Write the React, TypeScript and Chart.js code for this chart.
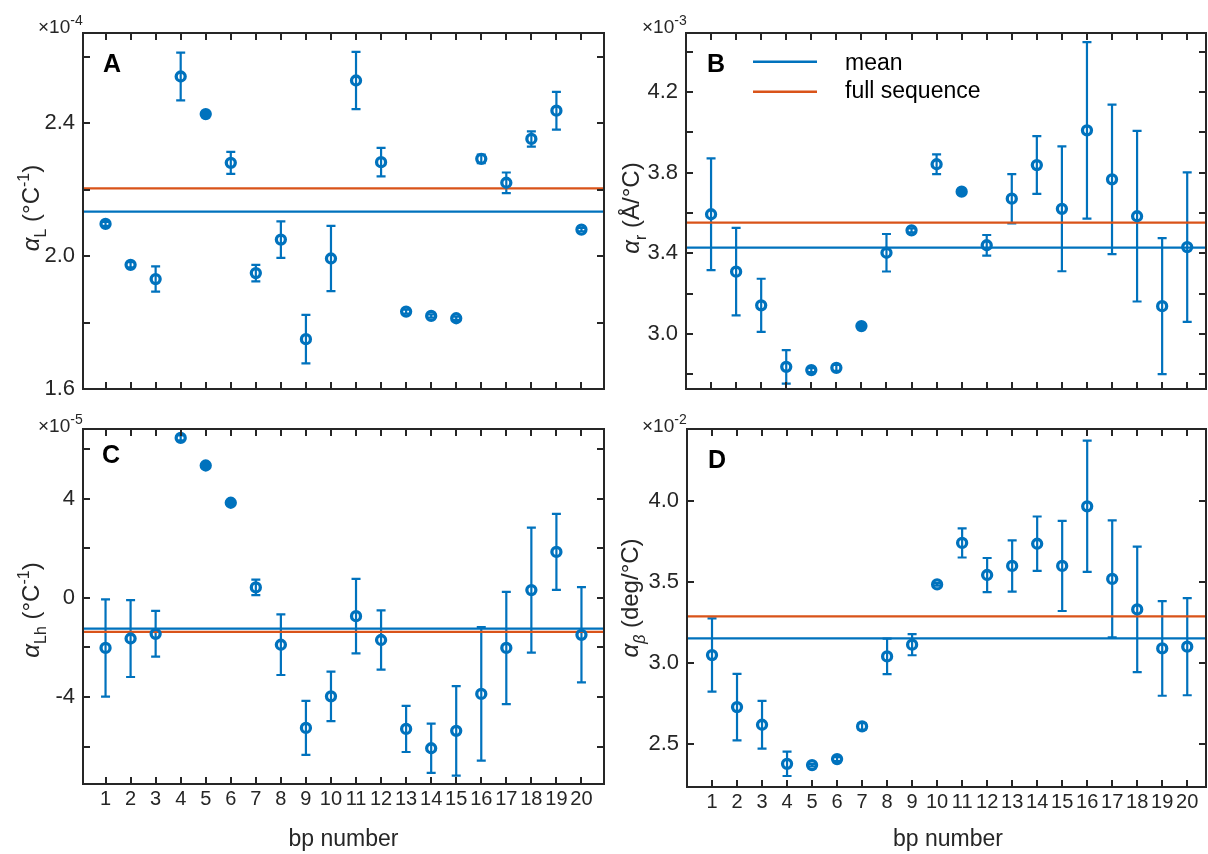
import React, { useEffect, useRef } from 'react';
import { Chart, registerables } from 'chart.js';

Chart.register(...registerables);

const FONT = '"Liberation Sans", Arial, Helvetica, sans-serif';
const INK = '#262626';
const BLUE = '#0072BD';
const ORANGE = '#D95319';

const bpNumbers = [1, 2, 3, 4, 5, 6, 7, 8, 9, 10, 11, 12, 13, 14, 15, 16, 17, 18, 19, 20];

// Panel A : alpha_L (x1e-4 1/C)
const alphaL = [2.097, 1.974, 1.931, 2.541, 2.428, 2.281, 1.949, 2.05, 1.75, 1.993, 2.529, 2.283, 1.833, 1.82, 1.813, 2.293, 2.221, 2.353, 2.438, 2.08];
const alphaLErr = [0.006, 0.008, 0.038, 0.072, 0, 0.033, 0.025, 0.055, 0.073, 0.098, 0.086, 0.043, 0.006, 0.005, 0.005, 0.013, 0.031, 0.023, 0.057, 0.005];
const alphaLFilled = [5];
const alphaLMean = 2.134;
const alphaLFull = 2.204;
const alphaLTicks = [1.6, 1.8, 2.0, 2.2, 2.4, 2.6];
const alphaLLabels = [1.6, 2.0, 2.4];

// Panel B : alpha_r (x1e-3 A/C)
const alphaR = [3.594, 3.309, 3.142, 2.837, 2.821, 2.832, 3.039, 3.403, 3.514, 3.842, 3.706, 3.44, 3.671, 3.838, 3.621, 4.01, 3.767, 3.584, 3.138, 3.431];
const alphaRErr = [0.277, 0.217, 0.132, 0.083, 0.01, 0.015, 0, 0.093, 0.01, 0.049, 0, 0.051, 0.122, 0.143, 0.31, 0.438, 0.371, 0.423, 0.337, 0.371];
const alphaRFilled = [7, 11];
const alphaRMean = 3.428;
const alphaRFull = 3.552;
const alphaRTicks = [2.8, 3.0, 3.2, 3.4, 3.6, 3.8, 4.0, 4.2, 4.4];
const alphaRLabels = [3.0, 3.4, 3.8, 4.2];

// Panel C : alpha_Lh (x1e-5 1/C)
const alphaLh = [-2.02, -1.64, -1.45, 6.44, 5.33, 3.83, 0.42, -1.89, -5.24, -3.97, -0.74, -1.7, -5.28, -6.06, -5.36, -3.87, -2.02, 0.31, 1.85, -1.49];
const alphaLhErr = [1.96, 1.55, 0.92, 0.1, 0.05, 0.05, 0.31, 1.22, 1.09, 1.0, 1.5, 1.19, 0.93, 0.99, 1.8, 2.69, 2.26, 2.52, 1.53, 1.92];
const alphaLhFilled = [5, 6];
const alphaLhMean = -1.24;
const alphaLhFull = -1.37;
const alphaLhTicks = [-6, -4, -2, 0, 2, 4, 6];
const alphaLhLabels = [-4, 0, 4];

// Panel D : alpha_beta (x1e-2 deg/C)
const alphaBeta = [3.049, 2.728, 2.619, 2.378, 2.37, 2.407, 2.609, 3.041, 3.113, 3.485, 3.741, 3.543, 3.599, 3.736, 3.599, 3.967, 3.519, 3.331, 3.09, 3.101];
const alphaBetaErr = [0.226, 0.205, 0.147, 0.075, 0.008, 0.012, 0.02, 0.11, 0.065, 0.008, 0.09, 0.105, 0.158, 0.168, 0.278, 0.405, 0.361, 0.387, 0.292, 0.3];
const alphaBetaFilled: number[] = [];
const alphaBetaMean = 3.152;
const alphaBetaFull = 3.288;
const alphaBetaTicks = [2.5, 3.0, 3.5, 4.0];
const alphaBetaLabels = [2.5, 3.0, 3.5, 4.0];

const legendLabels = ['mean', 'full sequence'];

type Part = { t: string; k?: 'sub' | 'sup' | 'i' | 'subi' };

interface PanelCfg {
  rect: { left: number; top: number; width: number; height: number };
  padTop: number;
  padRight: number;
  yW: number;
  xH: number;
  xMin: number;
  xMax: number;
  yMin: number;
  yMax: number;
  values: number[];
  errors: number[];
  filled: number[];
  mean: number;
  full: number;
  yTicks: number[];
  yLabels: number[];
  decimals: number;
  showX: boolean;
  letter: string;
  letterPos: [number, number];
  exp: string;
  expPos: [number, number];
  yTitle: Part[];
  yTitlePos: [number, number];
  xTitlePos?: [number, number];
  legend?: boolean;
}

const CAP = 4.5;
const TICK = 7;

function partFont(k: Part['k'], big: number, small: number) {
  const isSmall = k === 'sub' || k === 'sup' || k === 'subi';
  const italic = k === 'i' || k === 'subi';
  return `${italic ? 'italic ' : ''}${isSmall ? small : big}px ${FONT}`;
}

function drawRich(ctx: CanvasRenderingContext2D, parts: Part[], big: number, small: number, center: boolean) {
  let total = 0;
  const widths = parts.map((p) => {
    ctx.font = partFont(p.k, big, small);
    const w = ctx.measureText(p.t).width;
    total += w;
    return w;
  });
  let cur = center ? -total / 2 : 0;
  parts.forEach((p, i) => {
    ctx.font = partFont(p.k, big, small);
    const dy = p.k === 'sub' || p.k === 'subi' ? big * 0.28 : p.k === 'sup' ? -big * 0.4 : 0;
    ctx.fillText(p.t, cur, dy);
    cur += widths[i];
  });
}

function decoPlugin(cfg: PanelCfg) {
  const ox = cfg.rect.left;
  const oy = cfg.rect.top;
  return {
    id: 'deco',
    beforeDatasetsDraw(chart: any) {
      const { ctx, chartArea: a, scales } = chart;
      const xs = scales.x;
      const ys = scales.y;
      ctx.save();
      ctx.beginPath();
      ctx.rect(a.left, a.top, a.right - a.left, a.bottom - a.top);
      ctx.clip();
      ctx.strokeStyle = BLUE;
      ctx.lineWidth = 2.2;
      cfg.values.forEach((v, i) => {
        const e = cfg.errors[i];
        if (!(e > 0)) return;
        const px = xs.getPixelForValue(bpNumbers[i]);
        const t = ys.getPixelForValue(v + e);
        const b = ys.getPixelForValue(v - e);
        ctx.beginPath();
        ctx.moveTo(px, t);
        ctx.lineTo(px, b);
        ctx.moveTo(px - CAP, t);
        ctx.lineTo(px + CAP, t);
        ctx.moveTo(px - CAP, b);
        ctx.lineTo(px + CAP, b);
        ctx.stroke();
      });
      ctx.restore();
    },
    afterDraw(chart: any) {
      const { ctx, chartArea: a, scales } = chart;
      const xs = scales.x;
      const ys = scales.y;
      ctx.save();
      ctx.strokeStyle = INK;
      ctx.lineWidth = 2;
      ctx.beginPath();
      xs.ticks.forEach((t: any) => {
        const px = Math.round(xs.getPixelForValue(t.value));
        ctx.moveTo(px, a.bottom);
        ctx.lineTo(px, a.bottom - TICK);
        ctx.moveTo(px, a.top);
        ctx.lineTo(px, a.top + TICK);
      });
      ys.ticks.forEach((t: any) => {
        const py = Math.round(ys.getPixelForValue(t.value));
        ctx.moveTo(a.left, py);
        ctx.lineTo(a.left + TICK, py);
        ctx.moveTo(a.right, py);
        ctx.lineTo(a.right - TICK, py);
      });
      ctx.stroke();
      ctx.strokeRect(a.left, a.top, a.right - a.left, a.bottom - a.top);

      ctx.textBaseline = 'alphabetic';
      ctx.textAlign = 'left';

      // panel letter
      ctx.fillStyle = '#000';
      ctx.font = `bold 25px ${FONT}`;
      ctx.fillText(cfg.letter, cfg.letterPos[0] - ox, cfg.letterPos[1] - oy);

      // exponent
      ctx.fillStyle = INK;
      ctx.save();
      ctx.translate(cfg.expPos[0] - ox, cfg.expPos[1] - oy);
      drawRich(ctx, [{ t: '×10' }, { t: cfg.exp, k: 'sup' }], 19, 14, false);
      ctx.restore();

      // y title
      ctx.save();
      ctx.translate(cfg.yTitlePos[0] - ox, cfg.yTitlePos[1] - oy);
      ctx.rotate(-Math.PI / 2);
      drawRich(ctx, cfg.yTitle, 24, 16, true);
      ctx.restore();

      // x title
      if (cfg.xTitlePos) {
        ctx.font = `23px ${FONT}`;
        ctx.textAlign = 'center';
        ctx.fillText('bp number', cfg.xTitlePos[0] - ox, cfg.xTitlePos[1] - oy);
        ctx.textAlign = 'left';
      }

      // legend
      if (cfg.legend) {
        const rows: [string, string, number, number][] = [
          [legendLabels[0], BLUE, 61.7, 70],
          [legendLabels[1], ORANGE, 91.7, 98],
        ];
        rows.forEach(([label, col, ly, ty]) => {
          ctx.strokeStyle = col;
          ctx.lineWidth = 2.5;
          ctx.beginPath();
          ctx.moveTo(753 - ox, ly - oy);
          ctx.lineTo(817 - ox, ly - oy);
          ctx.stroke();
          ctx.fillStyle = '#000';
          ctx.font = `23px ${FONT}`;
          ctx.fillText(label, 845 - ox, ty - oy);
        });
      }
      ctx.restore();
    },
  };
}

function buildConfig(cfg: PanelCfg): any {
  const pts = bpNumbers.map((b, i) => ({ x: b, y: cfg.values[i] }));
  const fills = bpNumbers.map((b) => (cfg.filled.includes(b) ? BLUE : 'rgba(255,255,255,0)'));
  const isLabel = (v: number) => cfg.yLabels.some((l) => Math.abs(l - v) < 1e-9);
  return {
    type: 'scatter',
    data: {
      datasets: [
        {
          label: 'values',
          data: pts,
          pointRadius: 4.5,
          pointHoverRadius: 4.5,
          pointBorderWidth: 3.3,
          pointBorderColor: BLUE,
          pointBackgroundColor: fills,
          showLine: false,
        },
        {
          label: legendLabels[0],
          data: [
            { x: cfg.xMin, y: cfg.mean },
            { x: cfg.xMax, y: cfg.mean },
          ],
          showLine: true,
          borderColor: BLUE,
          borderWidth: 2.2,
          pointRadius: 0,
        },
        {
          label: legendLabels[1],
          data: [
            { x: cfg.xMin, y: cfg.full },
            { x: cfg.xMax, y: cfg.full },
          ],
          showLine: true,
          borderColor: ORANGE,
          borderWidth: 2.2,
          pointRadius: 0,
        },
      ],
    },
    options: {
      animation: false,
      responsive: false,
      maintainAspectRatio: false,
      devicePixelRatio: 1,
      layout: { autoPadding: false, padding: { left: 0, top: cfg.padTop, right: cfg.padRight, bottom: 0 } },
      plugins: { legend: { display: false }, tooltip: { enabled: false } },
      scales: {
        x: {
          type: 'linear',
          min: cfg.xMin,
          max: cfg.xMax,
          grid: { display: false, drawTicks: false },
          border: { display: false },
          ticks: {
            display: cfg.showX,
            autoSkip: false,
            maxRotation: 0,
            minRotation: 0,
            padding: 3,
            color: INK,
            font: { family: FONT, size: 20 },
            callback: (v: number) => String(v),
          },
          afterBuildTicks: (s: any) => {
            s.ticks = bpNumbers.map((v) => ({ value: v }));
          },
          afterFit: (s: any) => {
            s.height = cfg.xH;
          },
        },
        y: {
          type: 'linear',
          min: cfg.yMin,
          max: cfg.yMax,
          grid: { display: false, drawTicks: false },
          border: { display: false },
          ticks: {
            autoSkip: false,
            padding: 8,
            color: INK,
            font: { family: FONT, size: 22 },
            callback: (v: number) => (isLabel(v) ? v.toFixed(cfg.decimals) : ''),
          },
          afterBuildTicks: (s: any) => {
            s.ticks = cfg.yTicks.map((v) => ({ value: v }));
          },
          afterFit: (s: any) => {
            s.width = cfg.yW;
          },
        },
      },
    },
    plugins: [decoPlugin(cfg)],
  };
}

const panels: PanelCfg[] = [
  {
    rect: { left: 0, top: 0, width: 610, height: 420 },
    padTop: 33,
    padRight: 6,
    yW: 83,
    xH: 31,
    xMin: 0.1,
    xMax: 20.9,
    yMin: 1.6,
    yMax: 2.672,
    values: alphaL,
    errors: alphaLErr,
    filled: alphaLFilled,
    mean: alphaLMean,
    full: alphaLFull,
    yTicks: alphaLTicks,
    yLabels: alphaLLabels,
    decimals: 1,
    showX: false,
    letter: 'A',
    letterPos: [103, 72],
    exp: '-4',
    expPos: [38, 33],
    yTitle: [{ t: 'α', k: 'i' }, { t: 'L', k: 'sub' }, { t: ' (°C' }, { t: '-1', k: 'sup' }, { t: ')' }],
    yTitlePos: [39, 208],
  },
  {
    rect: { left: 610, top: 0, width: 598, height: 420 },
    padTop: 33,
    padRight: 2,
    yW: 76,
    xH: 31,
    xMin: 0,
    xMax: 20.75,
    yMin: 2.727,
    yMax: 4.493,
    values: alphaR,
    errors: alphaRErr,
    filled: alphaRFilled,
    mean: alphaRMean,
    full: alphaRFull,
    yTicks: alphaRTicks,
    yLabels: alphaRLabels,
    decimals: 1,
    showX: false,
    letter: 'B',
    letterPos: [707, 72],
    exp: '-3',
    expPos: [642, 33],
    yTitle: [{ t: 'α', k: 'i' }, { t: 'r', k: 'sub' }, { t: ' (Å/°C)' }],
    yTitlePos: [639, 208],
    legend: true,
  },
  {
    rect: { left: 0, top: 400, width: 610, height: 454 },
    padTop: 29,
    padRight: 6,
    yW: 83,
    xH: 70,
    xMin: 0.1,
    xMax: 20.9,
    yMin: -7.5,
    yMax: 6.8,
    values: alphaLh,
    errors: alphaLhErr,
    filled: alphaLhFilled,
    mean: alphaLhMean,
    full: alphaLhFull,
    yTicks: alphaLhTicks,
    yLabels: alphaLhLabels,
    decimals: 0,
    showX: true,
    letter: 'C',
    letterPos: [102, 463],
    exp: '-5',
    expPos: [38, 432],
    yTitle: [{ t: 'α', k: 'i' }, { t: 'Lh', k: 'sub' }, { t: ' (°C' }, { t: '-1', k: 'sup' }, { t: ')' }],
    yTitlePos: [39, 610],
    xTitlePos: [343.5, 846],
  },
  {
    rect: { left: 610, top: 400, width: 598, height: 454 },
    padTop: 29,
    padRight: 2,
    yW: 77,
    xH: 67,
    xMin: 0,
    xMax: 20.75,
    yMin: 2.235,
    yMax: 4.444,
    values: alphaBeta,
    errors: alphaBetaErr,
    filled: alphaBetaFilled,
    mean: alphaBetaMean,
    full: alphaBetaFull,
    yTicks: alphaBetaTicks,
    yLabels: alphaBetaLabels,
    decimals: 1,
    showX: true,
    letter: 'D',
    letterPos: [708, 468],
    exp: '-2',
    expPos: [642, 432],
    yTitle: [{ t: 'α', k: 'i' }, { t: 'β', k: 'subi' }, { t: ' (deg/°C)' }],
    yTitlePos: [638, 598],
    xTitlePos: [948, 846],
  },
];

function Panel({ cfg }: { cfg: PanelCfg }) {
  const ref = useRef<HTMLCanvasElement | null>(null);
  useEffect(() => {
    if (!ref.current) return;
    const chart = new Chart(ref.current, buildConfig(cfg));
    return () => chart.destroy();
  }, [cfg]);
  const r = cfg.rect;
  return (
    <canvas
      ref={ref}
      width={r.width}
      height={r.height}
      style={{ position: 'absolute', left: r.left, top: r.top, width: r.width, height: r.height }}
    />
  );
}

export default function App() {
  return (
    <div style={{ position: 'absolute', left: 0, top: 0, width: 1208, height: 854, background: '#fff', overflow: 'hidden' }}>
      {panels.map((p, i) => (
        <Panel key={i} cfg={p} />
      ))}
    </div>
  );
}
